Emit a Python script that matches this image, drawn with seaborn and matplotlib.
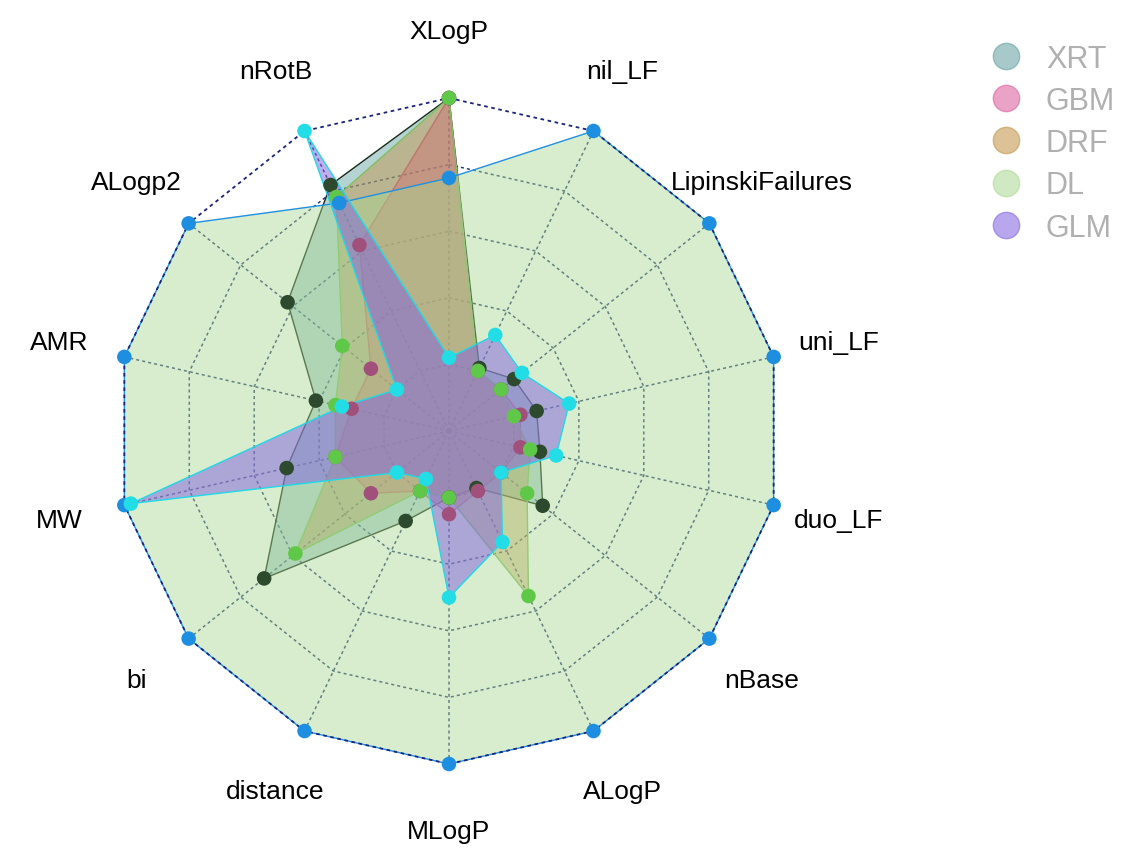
import numpy as np
import pandas as pd
import matplotlib
matplotlib.use("Agg")
import matplotlib.pyplot as plt
import seaborn as sns
from matplotlib.lines import Line2D

axes_names = ["XLogP", "nil_LF", "LipinskiFailures", "uni_LF", "duo_LF", "nBase", "ALogP",
              "MLogP", "distance", "bi", "MW", "AMR", "ALogp2", "nRotB"]
models = ["XRT", "GBM", "DRF", "DL", "GLM"]
xrt = [1.0, 0.21, 0.25, 0.27, 0.28, 0.36, 0.19, 0.2, 0.3, 0.71, 0.5, 0.41, 0.62, 0.82]
gbm = [1.0, 0.2, 0.2, 0.22, 0.22, 0.2, 0.2, 0.25, 0.2, 0.3, 0.35, 0.3, 0.3, 0.62]
drf = [1.0, 0.2, 0.2, 0.2, 0.25, 0.3, 0.55, 0.2, 0.2, 0.59, 0.35, 0.35, 0.41, 0.78]
dl = [0.76, 1, 1, 1, 1, 1, 1, 1, 1, 1, 1, 1, 1, 0.76]
glm = [0.22, 0.32, 0.28, 0.37, 0.33, 0.2, 0.37, 0.5, 0.16, 0.2, 0.98, 0.33, 0.2, 1.0]
series = [xrt, gbm, drf, dl, glm]

fills = ["#5F9EA0", "#D9589A", "#C09040", "#A8D890", "#8060E0"]
alphas = [0.45, 0.45, 0.45, 0.45, 0.5]
lines = ["#1A2A1A", "#C06090", "#80C060", "#2090E0", "#20D8E8"]
marks = ["#2E4A2E", "#A0507A", "#60C848", "#1E8FE0", "#22DDE6"]

sns.set_style("white")
plt.rcParams['font.family'] = ['Liberation Sans', 'DejaVu Sans']

n = len(axes_names)
theta = np.arange(n) * 2 * np.pi / n
ux, uy = np.sin(theta), np.cos(theta)

fig = plt.figure(figsize=(11.22, 8.62), dpi=100)
ax = fig.add_axes([0, 0, 1, 1])
ax.set_xlim(-449 / 333, (1122 - 449) / 333)
ax.set_ylim(-(862 - 432) / 333, 432 / 333)
ax.axis("off")

# grid under the fills, outer ring on top
for r in [0.2, 0.4, 0.6, 0.8]:
    gx, gy = np.append(r * ux, r * ux[0]), np.append(r * uy, r * uy[0])
    ax.plot(gx, gy, ls=(0, (2, 2)), color="#2a3a7a", lw=1.1, zorder=1)
for i in range(n):
    ax.plot([0, ux[i]], [0, uy[i]], ls=(0, (2, 2)), color="#2a3a7a", lw=1.1, zorder=1)
ax.plot(np.append(ux, ux[0]), np.append(uy, uy[0]), ls=(0, (2, 2)), color="#1a237e",
        lw=1.3, zorder=9)

for k, (vals, fc, a, lc, mc) in enumerate(zip(series, fills, alphas, lines, marks)):
    v = np.array(vals)
    px, py = v * ux, v * uy
    ax.fill(px, py, color=fc, alpha=a, lw=0, zorder=2 + k)
    ax.plot(np.append(px, px[0]), np.append(py, py[0]), color=lc, lw=1, zorder=2 + k)
    pts = pd.DataFrame({"x": px, "y": py})
    sns.scatterplot(data=pts, x="x", y="y", color=mc, s=110, marker="o",
                    edgecolor="none", ax=ax, zorder=10 + k)

for i, name in enumerate(axes_names):
    ax.text(1.2 * ux[i], 1.2 * uy[i], name, ha="center", va="center", fontsize=19, color="black")

handles = [Line2D([], [], marker="o", ls="none", markersize=19, markerfacecolor=fc,
                  markeredgecolor=fc, alpha=0.55) for fc in fills]
leg = ax.legend(handles, models, loc="upper left", bbox_to_anchor=(0.845, 0.98), frameon=False,
                fontsize=22, labelspacing=0.4, handletextpad=0.3)
for t in leg.get_texts():
    t.set_color("#b0b0b0")

fig.savefig("out.png", dpi=100)
